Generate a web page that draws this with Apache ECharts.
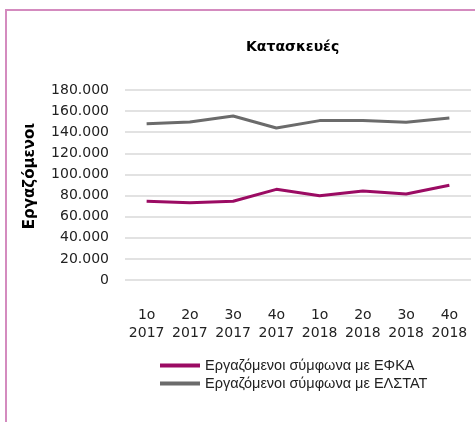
<!DOCTYPE html>
<html><head><meta charset="utf-8">
<script src="https://cdn.jsdelivr.net/npm/echarts@6/dist/echarts.min.js"></script>
<style>html,body{margin:0;padding:0;background:#fff;overflow:hidden}#c{width:475px;height:422px}</style>
</head><body><div id="c"></div>
<script>
const categories = ['1ο\n2017','2ο\n2017','3ο\n2017','4ο\n2017','1ο\n2018','2ο\n2018','3ο\n2018','4ο\n2018'];
const efka = [74600, 73300, 74600, 85900, 79900, 84300, 81500, 89700];
const elstat = [148000, 149700, 155400, 144000, 151000, 151000, 149400, 153500];
const seriesNames = ['Εργαζόμενοι σύμφωνα με ΕΦΚΑ', 'Εργαζόμενοι σύμφωνα με ΕΛΣΤΑΤ'];
const titleText = 'Κατασκευές';
const yName = 'Εργαζόμενοι';

const chart = echarts.init(document.getElementById('c'), null, {renderer:'canvas'});
const fmt = v => v === 0 ? '0' : String(v).replace(/\B(?=(\d{3})+(?!\d))/g, '.');
chart.setOption({
  animation:false,
  graphic:[
    {type:'rect', shape:{x:5, y:9, width:2, height:413}, style:{fill:'#d48bbf'}, silent:true},
    {type:'rect', shape:{x:5, y:9, width:470, height:2}, style:{fill:'#d48bbf'}, silent:true},
    {type:'text', x:30, y:176, rotation:Math.PI/2, style:{text:yName, fontFamily:'DejaVu Sans', fontSize:15, fontWeight:'bold', fill:'#000', align:'center', verticalAlign:'middle'}, silent:true}
  ],
  title:{text:titleText, left:241, top:35, textStyle:{fontFamily:'DejaVu Sans', fontSize:14, fontWeight:'bold', color:'#000'}},
  grid:{left:125, right:4, top:90, bottom:142},
  xAxis:{type:'category', data:categories, boundaryGap:true,
    axisLine:{show:false}, axisTick:{show:false},
    axisLabel:{fontFamily:'DejaVu Sans', fontSize:14, color:'#222', margin:26, lineHeight:18, interval:0}},
  yAxis:{type:'value', min:0, max:180000, interval:20000,
    axisLabel:{formatter:fmt, fontFamily:'DejaVu Sans', fontSize:14, color:'#222', margin:16},
    splitLine:{lineStyle:{color:'#d9d9d9', width:1.5}}},
  legend:{orient:'vertical', left:160, top:358, padding:0, itemGap:3, itemWidth:40, itemHeight:4, icon:'rect',
    textStyle:{fontFamily:'Liberation Sans', fontSize:14.5, color:'#222'}},
  series:[
    {name:seriesNames[0], type:'line', data:efka, symbol:'none', lineStyle:{color:'#9b0b63', width:3}, itemStyle:{color:'#9b0b63'}},
    {name:seriesNames[1], type:'line', data:elstat, symbol:'none', lineStyle:{color:'#6b6b6b', width:3}, itemStyle:{color:'#6b6b6b'}}
  ]
});
</script></body></html>
